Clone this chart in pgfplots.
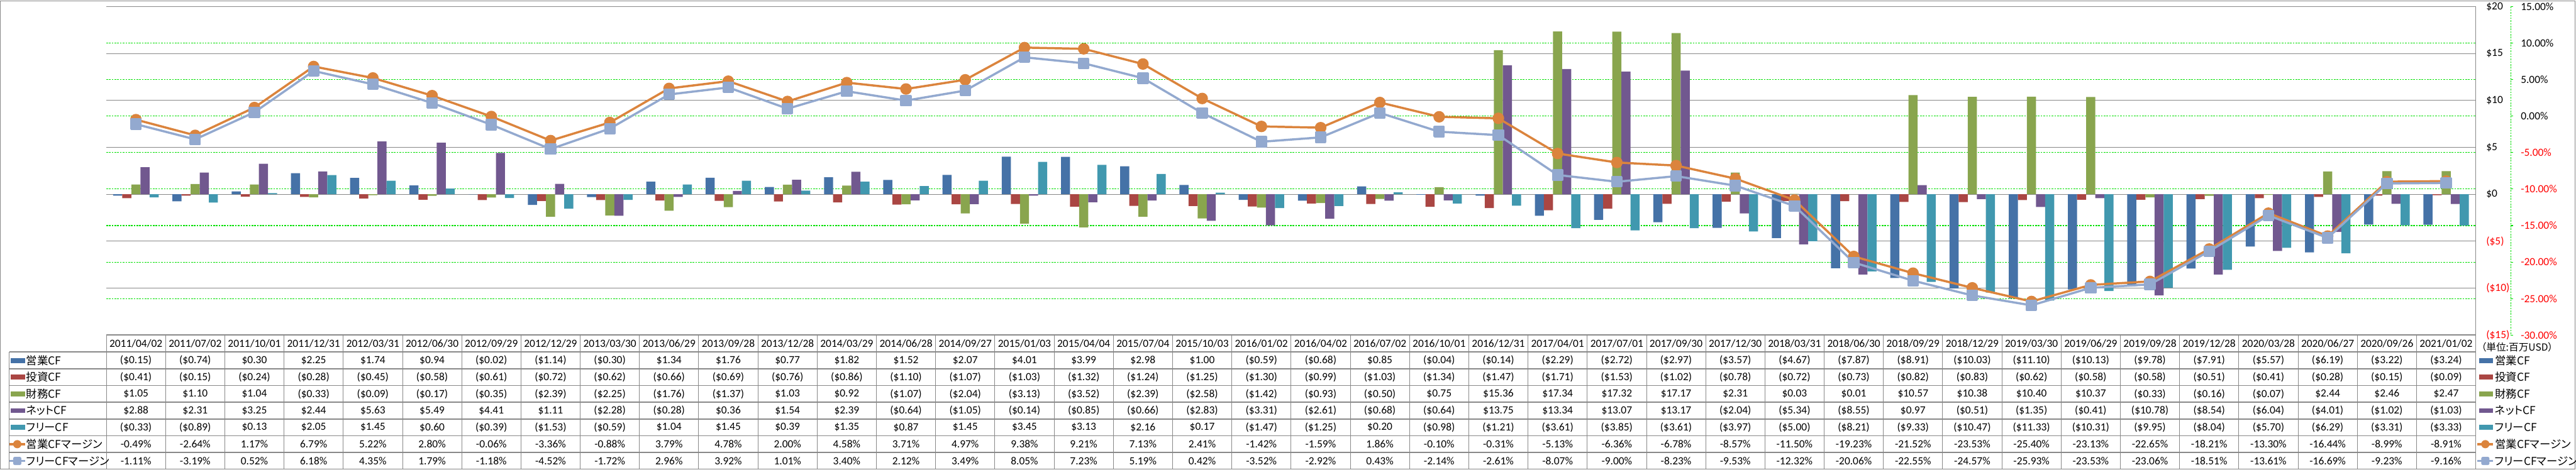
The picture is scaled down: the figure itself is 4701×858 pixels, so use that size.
\documentclass[border=0pt]{standalone}
\usepackage{fontspec}
\setmainfont{Carlito}
\newfontfamily\jp[RawFeature=+palt]{Noto Sans CJK JP}
\usepackage{pgfplots}
\usepackage{pgfplotstable}
\pgfplotsset{compat=1.18}
\pgfkeys{/pgf/number format/assume math mode=true}

\definecolor{cOp}{HTML}{4572A7}
\definecolor{cInv}{HTML}{AA4643}
\definecolor{cFin}{HTML}{89A54E}
\definecolor{cNet}{HTML}{71588F}
\definecolor{cFree}{HTML}{4198AF}
\definecolor{cOpM}{HTML}{DB843D}
\definecolor{cFreeM}{HTML}{93A9CF}
\definecolor{cGrid}{HTML}{888888}
\definecolor{cGreen}{HTML}{00E000}

% quarterly cash flow (million USD) and margins (%)
\pgfplotstableread{
x date op inv fin net free opm freem
0 2011/04/02 -0.15 -0.41 1.05 2.88 -0.33 -0.49 -1.11
1 2011/07/02 -0.74 -0.15 1.10 2.31 -0.89 -2.64 -3.19
2 2011/10/01 0.30 -0.24 1.04 3.25 0.13 1.17 0.52
3 2011/12/31 2.25 -0.28 -0.33 2.44 2.05 6.79 6.18
4 2012/03/31 1.74 -0.45 -0.09 5.63 1.45 5.22 4.35
5 2012/06/30 0.94 -0.58 -0.17 5.49 0.60 2.80 1.79
6 2012/09/29 -0.02 -0.61 -0.35 4.41 -0.39 -0.06 -1.18
7 2012/12/29 -1.14 -0.72 -2.39 1.11 -1.53 -3.36 -4.52
8 2013/03/30 -0.30 -0.62 -2.25 -2.28 -0.59 -0.88 -1.72
9 2013/06/29 1.34 -0.66 -1.76 -0.28 1.04 3.79 2.96
10 2013/09/28 1.76 -0.69 -1.37 0.36 1.45 4.78 3.92
11 2013/12/28 0.77 -0.76 1.03 1.54 0.39 2.00 1.01
12 2014/03/29 1.82 -0.86 0.92 2.39 1.35 4.58 3.40
13 2014/06/28 1.52 -1.10 -1.07 -0.64 0.87 3.71 2.12
14 2014/09/27 2.07 -1.07 -2.04 -1.05 1.45 4.97 3.49
15 2015/01/03 4.01 -1.03 -3.13 -0.14 3.45 9.38 8.05
16 2015/04/04 3.99 -1.32 -3.52 -0.85 3.13 9.21 7.23
17 2015/07/04 2.98 -1.24 -2.39 -0.66 2.16 7.13 5.19
18 2015/10/03 1.00 -1.25 -2.58 -2.83 0.17 2.41 0.42
19 2016/01/02 -0.59 -1.30 -1.42 -3.31 -1.47 -1.42 -3.52
20 2016/04/02 -0.68 -0.99 -0.93 -2.61 -1.25 -1.59 -2.92
21 2016/07/02 0.85 -1.03 -0.50 -0.68 0.20 1.86 0.43
22 2016/10/01 -0.04 -1.34 0.75 -0.64 -0.98 -0.10 -2.14
23 2016/12/31 -0.14 -1.47 15.36 13.75 -1.21 -0.31 -2.61
24 2017/04/01 -2.29 -1.71 17.34 13.34 -3.61 -5.13 -8.07
25 2017/07/01 -2.72 -1.53 17.32 13.07 -3.85 -6.36 -9.00
26 2017/09/30 -2.97 -1.02 17.17 13.17 -3.61 -6.78 -8.23
27 2017/12/30 -3.57 -0.78 2.31 -2.04 -3.97 -8.57 -9.53
28 2018/03/31 -4.67 -0.72 0.03 -5.34 -5.00 -11.50 -12.32
29 2018/06/30 -7.87 -0.73 0.01 -8.55 -8.21 -19.23 -20.06
30 2018/09/29 -8.91 -0.82 10.57 0.97 -9.33 -21.52 -22.55
31 2018/12/29 -10.03 -0.83 10.38 -0.51 -10.47 -23.53 -24.57
32 2019/03/30 -11.10 -0.62 10.40 -1.35 -11.33 -25.40 -25.93
33 2019/06/29 -10.13 -0.58 10.37 -0.41 -10.31 -23.13 -23.53
34 2019/09/28 -9.78 -0.58 -0.33 -10.78 -9.95 -22.65 -23.06
35 2019/12/28 -7.91 -0.51 -0.16 -8.54 -8.04 -18.21 -18.51
36 2020/03/28 -5.57 -0.41 -0.07 -6.04 -5.70 -13.30 -13.61
37 2020/06/27 -6.19 -0.28 2.44 -4.01 -6.29 -16.44 -16.69
38 2020/09/26 -3.22 -0.15 2.46 -1.02 -3.31 -8.99 -9.23
39 2021/01/02 -3.24 -0.09 2.47 -1.03 -3.33 -8.91 -9.16
}\cfdata

\newcommand\tfont{\fontsize{20bp}{24bp}\selectfont}
\newcommand\fmtcur[1]{%
  \pgfmathsetmacro\fv{abs(#1)}%
  \pgfmathparse{(#1<0)}%
  \ifdim\pgfmathresult pt>0.5pt
    (\$\pgfmathprintnumber[fixed,fixed zerofill,precision=2]{\fv})%
  \else
    \$\pgfmathprintnumber[fixed,fixed zerofill,precision=2]{\fv}%
  \fi}
\newcommand\fmtpct[1]{\pgfmathprintnumber[fixed,fixed zerofill,precision=2]{#1}\%}
\newcommand\cell[4]{%
  \pgfplotstablegetelem{#1}{#2}\of\cfdata
  \edef\cv{\pgfplotsretval}%
  \node[font=\tfont] at (\cx,#3) {#4{\cv}};}

% legend keys
\newcommand\barkey[3]{\fill[#1] (#2,#3-4.5) rectangle ++(26,9);}
\newcommand\opkey[2]{%
  \draw[cOpM, line width=4bp] (#1,#2) -- ++(29,0);
  \fill[cOpM] (#1+14.5,#2) circle (7.5);}
\newcommand\freekey[2]{%
  \draw[cFreeM, line width=4bp] (#1,#2) -- ++(29,0);
  \fill[cFreeM, rounded corners=3] (#1+7,#2-7.5) rectangle ++(15,15);}

\begin{document}
\begin{tikzpicture}[x=1bp,y=1bp]
\useasboundingbox (0,0) rectangle (4701,-858);
\draw[cGrid, line width=1.5bp] (0.75,-1.5) rectangle (4699.5,-856.8);

% percent axis: green grid and right labels
\begin{axis}[
    at={(194bp,-612bp)}, anchor=south west,
    scale only axis, width=4324bp, height=600bp,
    xmin=-0.5, xmax=39.5, ymin=-30, ymax=15,
    xtick=\empty, ytick={-30,-25,...,15},
    yticklabels={\textcolor{red}{-30.00\%}, \textcolor{red}{-25.00\%},
      \textcolor{red}{-20.00\%}, \textcolor{red}{-15.00\%},
      \textcolor{red}{-10.00\%}, \textcolor{red}{-5.00\%},
      0.00\%, 5.00\%, 10.00\%, 15.00\%},
    yticklabel pos=right,
    yticklabel style={font=\tfont, anchor=west, inner sep=0pt, xshift=82bp},
    ymajorgrids,
    major grid style={cGreen, line width=1.2bp, dash pattern=on 3bp off 2bp},
    axis line style={draw=none}, major tick length=0pt,
]
\addplot[draw=none] coordinates {(0,0)};
\end{axis}

% dollar axis: bars
\begin{axis}[
    at={(194bp,-612bp)}, anchor=south west,
    scale only axis, width=4324bp, height=600bp,
    xmin=-0.5, xmax=39.5, ymin=-15, ymax=20,
    xtick=\empty, ytick={-15,-10,...,20},
    yticklabels={\textcolor{red}{(\$15)}, \textcolor{red}{(\$10)},
      \textcolor{red}{(\$5)}, \$0, \$5, \$10, \$15, \$20},
    yticklabel pos=right,
    yticklabel style={font=\tfont, anchor=west, inner sep=0pt, xshift=19bp},
    ymajorgrids,
    major grid style={cGrid, line width=1.2bp},
    axis line style={draw=none}, major tick length=0pt,
    ybar=0pt, bar width=16.6bp,
]
\addplot[fill=cOp, draw=none] table[x=x, y=op] {\cfdata};
\addplot[fill=cInv, draw=none] table[x=x, y=inv] {\cfdata};
\addplot[fill=cFin, draw=none] table[x=x, y=fin] {\cfdata};
\addplot[fill=cNet, draw=none] table[x=x, y=net] {\cfdata};
\addplot[fill=cFree, draw=none] table[x=x, y=free] {\cfdata};
\end{axis}

% margins
\begin{axis}[
    at={(194bp,-612bp)}, anchor=south west,
    scale only axis, width=4324bp, height=600bp,
    xmin=-0.5, xmax=39.5, ymin=-30, ymax=15,
    hide axis, clip=false,
]
\addplot[cOpM, line width=4bp, line join=round, mark=*, mark size=8.5bp,
    mark options={draw=none, fill=cOpM}] table[x=x, y=opm] {\cfdata};
\addplot[cFreeM, line width=4bp, line join=round, mark=square*, mark size=8.5bp,
    mark options={draw=none, fill=cFreeM, rounded corners=3bp}] table[x=x, y=freem] {\cfdata};
\end{axis}

% plot right edge and secondary axis line
\draw[cGrid, line width=1.2bp] (4518,-12) -- (4518,-612);
\draw[cGreen, line width=1.2bp, dash pattern=on 3bp off 2bp] (4582,-12) -- (4582,-612);
\foreach \k in {0,...,9} \draw[cGreen, line width=1.2bp] (4582,-12-\k*66.667) -- ++(4,0);

% data table grid
\draw[cGrid, line width=1.8bp] (194,-612) -- (4518,-612);
\foreach \r in {0,...,6} \draw[cGrid, line width=1.8bp] (17,-643-\r*30.6) -- (4518,-643-\r*30.6);
\foreach \k in {0,...,40} \draw[cGrid, line width=1bp] (194+\k*108.1,-612) -- (194+\k*108.1,-857);
\draw[cGrid, line width=1bp] (17,-643) -- (17,-857);

% table values
\foreach \i in {0,...,39}{%
  \pgfmathsetmacro\cx{194+(\i+0.5)*108.1}%
  \pgfplotstablegetelem{\i}{date}\of\cfdata
  \node[font=\tfont] at (\cx,-628) {\pgfplotsretval};
  \cell{\i}{op}{-658.3}{\fmtcur}
  \cell{\i}{inv}{-688.9}{\fmtcur}
  \cell{\i}{fin}{-719.5}{\fmtcur}
  \cell{\i}{net}{-750.1}{\fmtcur}
  \cell{\i}{free}{-780.7}{\fmtcur}
  \cell{\i}{opm}{-811.3}{\fmtpct}
  \cell{\i}{freem}{-841.9}{\fmtpct}
}

% legend keys in the table and at the right
\foreach \lx/\tx in {20/48, 4524/4553}{
  \barkey{cOp}{\lx}{-658.3}
  \barkey{cInv}{\lx}{-688.9}
  \barkey{cFin}{\lx}{-719.5}
  \barkey{cNet}{\lx}{-750.1}
  \barkey{cFree}{\lx}{-780.7}
  \opkey{\lx-3}{-811.3}
  \freekey{\lx-3}{-841.9}
  \begin{scope}[every node/.style={anchor=west, inner sep=0pt, font=\jp\fontsize{20bp}{24bp}\selectfont}]
  \node at (\tx,-658.3) {営業CF};
  \node at (\tx,-688.9) {投資CF};
  \node at (\tx,-719.5) {財務CF};
  \node at (\tx,-750.1) {ネットCF};
  \node at (\tx,-780.7) {フリーCF};
  \node at (\tx,-811.3) {営業CFマージン};
  \node at (\tx,-841.9) {フリーCFマージン};
  \end{scope}
}
\node[anchor=west, inner sep=0pt, font=\jp\fontsize{18bp}{22bp}\selectfont] at (4528,-634) {（単位:百万USD）};
\end{tikzpicture}
\end{document}
